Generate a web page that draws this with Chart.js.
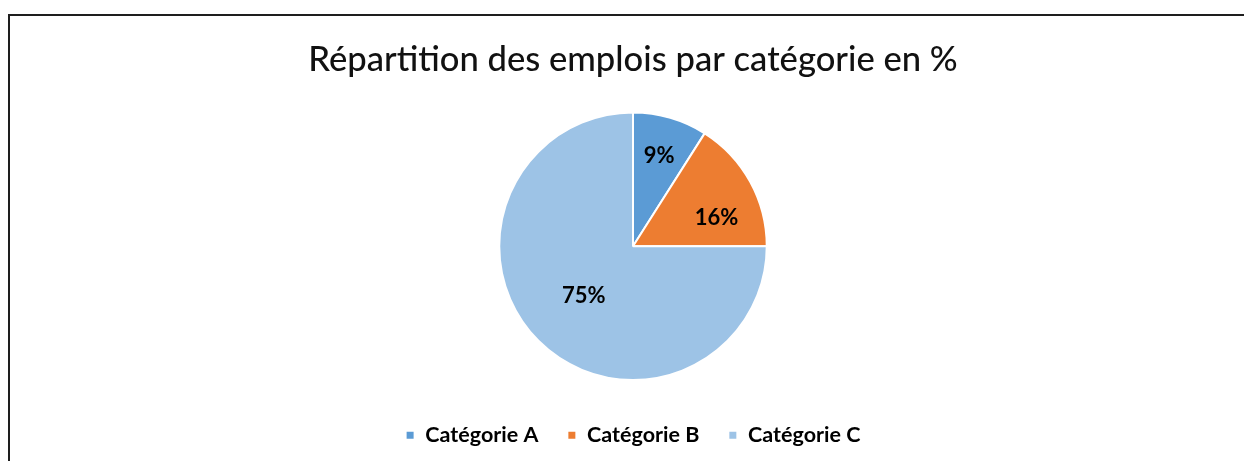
<!DOCTYPE html>
<html>
<head>
<meta charset="utf-8">
<script src="https://cdn.jsdelivr.net/npm/chart.js@4"></script>
<style>
  html, body { margin: 0; padding: 0; background: #fff; }
  #wrap { width: 1244px; height: 461px; }
</style>
</head>
<body>
<div id="wrap"><canvas id="container"></canvas></div>
<script>
const categories = ["Catégorie A", "Catégorie B", "Catégorie C"];
const values = [9, 16, 75];
const valueLabels = ["9%", "16%", "75%"];
const colors = ["#5B9BD5", "#ED7D31", "#9DC3E6"];

// frame line on left and top, like the cropped excel chart border
const framePlugin = {
  id: "frame",
  beforeDraw(chart) {
    const ctx = chart.ctx;
    ctx.save();
    ctx.fillStyle = "#fff";
    ctx.fillRect(0, 0, chart.width, chart.height);
    ctx.strokeStyle = "#1e1e1e";
    ctx.lineWidth = 2;
    ctx.beginPath();
    ctx.moveTo(9, chart.height);
    ctx.lineTo(9, 15);
    ctx.lineTo(chart.width, 15);
    ctx.stroke();
    ctx.restore();
  },
};

// percent labels inside slices (radius fraction + small angle nudge in degrees)
const labelFractions = [0.7, 0.66, 0.52];
const labelNudge = [0, 10, 0];
const sliceLabels = {
  id: "sliceLabels",
  afterDatasetsDraw(chart) {
    const ctx = chart.ctx;
    const meta = chart.getDatasetMeta(0);
    ctx.save();
    ctx.font = "bold 22px Lato";
    ctx.fillStyle = "#000";
    ctx.textAlign = "center";
    ctx.textBaseline = "middle";
    meta.data.forEach((arc, i) => {
      const p = arc.getProps(["x", "y", "startAngle", "endAngle", "outerRadius"], true);
      const mid = (p.startAngle + p.endAngle) / 2 + labelNudge[i] * Math.PI / 180;
      const r = p.outerRadius * labelFractions[i];
      ctx.fillText(valueLabels[i], p.x + Math.cos(mid) * r, p.y + Math.sin(mid) * r);
    });
    ctx.restore();
  },
};

const data = {
  labels: categories,
  datasets: [
    {
      data: values,
      backgroundColor: colors,
      borderColor: "#fff",
      borderWidth: 2,
    },
  ],
};

const config = {
  type: "pie",
  data: data,
  plugins: [framePlugin, sliceLabels],
  options: {
    responsive: true,
    maintainAspectRatio: false,
    animation: { duration: 0 },
    layout: { padding: { top: 20, bottom: 5, left: 22 } },
    plugins: {
      title: {
        display: true,
        text: "Répartition des emplois par catégorie en %",
        color: "#111",
        font: { family: "Lato", size: 34.6, weight: "500" },
        padding: { top: 19, bottom: 31 },
      },
      legend: {
        position: "bottom",
        // empty legend title just adds space above the items
        title: { display: true, text: " ", font: { size: 8 }, padding: { top: 0, bottom: 4.9 } },
        labels: {
          color: "#000",
          font: { family: "Lato", size: 21.5, weight: "bold" },
          boxWidth: 9,
          boxHeight: 9,
          padding: 29,
        },
      },
      tooltip: { enabled: false },
    },
  },
};

const chart = new Chart(document.getElementById("container"), config);
</script>
</body>
</html>
